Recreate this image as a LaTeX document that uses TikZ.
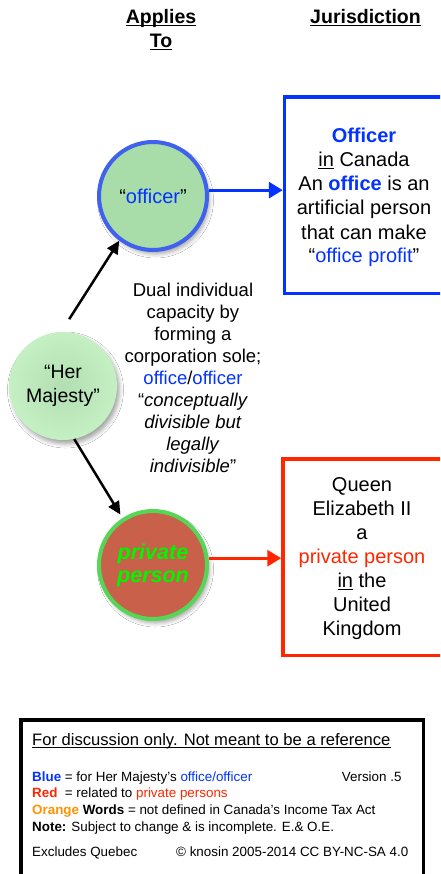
\documentclass[tikz,border=0pt]{standalone}
\usepackage{fontspec}
\setmainfont{Liberation Sans}
\usetikzlibrary{arrows.meta,shadows.blur,calc}

\definecolor{mblue}{RGB}{4,51,255}
\definecolor{ringblue}{RGB}{64,96,238}
\definecolor{offgreen}{RGB}{168,220,168}
\definecolor{hmgreenin}{RGB}{178,222,178}
\definecolor{hmgreenout}{RGB}{196,240,196}
\definecolor{ppred}{RGB}{200,96,74}
\definecolor{ringgreen}{RGB}{86,214,86}
\definecolor{mgreen}{RGB}{0,245,0}
\definecolor{mred}{RGB}{255,38,0}
\definecolor{morange}{RGB}{255,147,0}

\newsavebox\ulbox
\newcommand\myul[1]{\sbox\ulbox{#1}\rlap{\rule[-0.12em]{\wd\ulbox}{0.065em}}\usebox\ulbox}

\begin{document}
\begin{tikzpicture}[x=1pt,y=-1pt,
  circ/.style={circle, inner sep=0pt, minimum size=108pt, align=center,
    blur shadow={shadow xshift=2.5pt,shadow yshift=-4pt,shadow blur radius=4pt,shadow opacity=35}},
  jbox/.style={rectangle, draw, line width=3.5pt, inner sep=0pt},
  hdr/.style={font=\fontsize{19.5}{24}\selectfont\bfseries, align=center, inner sep=0pt, anchor=base},
  btext/.style={font=\fontsize{20}{24}\selectfont, align=center, inner sep=0pt, anchor=base},
  mtext/.style={font=\fontsize{18.5}{22}\selectfont, align=center, inner sep=0pt, anchor=base},
  small/.style={font=\fontsize{13.4}{16.67}\selectfont, align=left, inner sep=0pt, anchor=base west},
  blkarrow/.style={line width=2.5pt, -{Triangle[length=13pt,width=12pt]}},
  colarrow/.style={line width=3pt, -{Triangle[length=14pt,width=16pt]}}
]
\path[use as bounding box] (0,0) rectangle (440,874);
\clip (0,0) rectangle (440,874);
\fill[white] (0,0) rectangle (440,874);

% headers (base anchor = baseline of last line)
\node[hdr] (applies) at (161,48) {\myul{Applies}\\\myul{To}};
\node[hdr] (juris) at (365.5,24) {\myul{Jurisdiction}};

% circles
\node[circ, fill=offgreen, draw=ringblue, line width=4pt,
      font=\fontsize{20}{24}\selectfont] (off) at (153,196) {“\textcolor{mblue}{officer}”};
\node[circ, inner color=hmgreenin, outer color=hmgreenout,
      font=\fontsize{19.5}{24}\selectfont] (hm) at (63,386) {“Her\\Majesty”};
\node[circ, fill=ppred, draw=ringgreen, line width=4pt,
      font=\fontsize{21.5}{23}\selectfont\bfseries\itshape, text=mgreen] (pp) at (153,565) {private\\person};

% jurisdiction boxes
\node[jbox, draw=mblue, minimum width=175.5pt, minimum height=196.5pt] (bluebox) at (372.25,195.25) {};
\node[jbox, draw=mred, minimum width=177pt, minimum height=196.3pt] (redbox) at (371.5,557.15) {};

\node[btext] (bluetext) at (364,263) {\textbf{\textcolor{mblue}{Officer}}\\
  \myul{in} Canada\\
  An \textbf{\textcolor{mblue}{office}} is an\\
  artificial person\\
  that can make\\
  “\textcolor{mblue}{office profit}”};

\node[btext] (redtext) at (362,635.5) {Queen\\
  Elizabeth II\\
  a\\
  \textcolor{mred}{private person}\\
  \myul{in} the\\
  United\\
  Kingdom};

% middle text
\node[mtext] (dual) at (193,472.5) {Dual individual\\
  capacity by\\
  forming a\\
  corporation sole;\\
  \textcolor{mblue}{office}/\textcolor{mblue}{officer}\\
  “\textit{conceptually}\\
  \textit{divisible but}\\
  \textit{legally}\\
  \textit{indivisible}”};

% connectors
\draw[blkarrow, shorten <=15pt] (hm.92) -- (off.233);
\draw[blkarrow, shorten >=4pt] (hm.282) -- (pp.123);
\draw[colarrow, draw=mblue, fill=mblue] (off.6) -- (off.6 -| bluebox.west);
\draw[colarrow, draw=mred, fill=mred] (pp.7) -- (pp.7 -| redbox.west);

% legend box
\node[rectangle, draw=black, line width=3.5pt, inner sep=0pt,
      minimum width=402.5pt, minimum height=165pt] (legend) at (222,802.5) {};
\node[font=\fontsize{16.6}{20}\selectfont, inner sep=0pt, anchor=base west] (disc) at (32,745.7)
  {\myul{For discussion only. Not meant to be a reference}};
\node[small] (key) at (32,831) {\textbf{\textcolor{mblue}{Blue}} = for Her Majesty’s \textcolor{mblue}{office/officer}\\
  \textbf{\textcolor{mred}{Red}}\ \ = related to \textcolor{mred}{private persons}\\
  \textbf{\textcolor{morange}{Orange} Words} = not defined in Canada’s Income Tax Act\\
  \textbf{Note:} Subject to change \& is incomplete. E.\& O.E.};
\node[small, anchor=base east] (version) at (401.7,781) {Version .5};
\node[small] (excl) at (32,856.7) {Excludes Quebec};
\node[small] (copy) at (176,856.7) {© knosin 2005-2014 CC BY-NC-SA 4.0};
\end{tikzpicture}
\end{document}
